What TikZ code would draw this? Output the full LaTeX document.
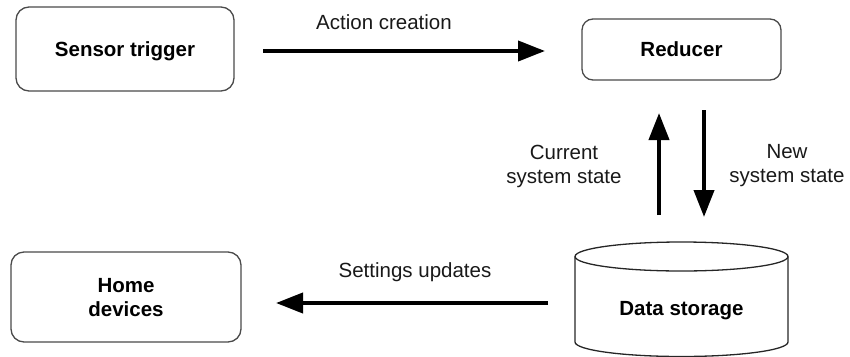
\documentclass[tikz,border=0pt]{standalone}
\usepackage{fontspec}
\setmainfont{Liberation Sans}
\usetikzlibrary{arrows.meta}
\definecolor{boxline}{HTML}{4A4A4A}
\tikzset{
  rbox/.style={draw=boxline, line width=1.3pt, rounded corners=13pt, align=center,
    font=\fontsize{20.5}{24}\selectfont\bfseries, inner sep=0pt, text depth=0pt},
  lbl/.style={align=center, font=\fontsize{20.5}{24}\selectfont, text=black!90},
  arr/.style={line width=4pt, -{Triangle[length=27pt,width=20pt]}},
  cyl/.style={draw=black!85, line width=1.3pt}
}
\begin{document}
\begin{tikzpicture}[x=1pt,y=-1pt]
\useasboundingbox (0,0) rectangle (850,356);
% boxes
\node[rbox, minimum width=218pt, minimum height=84pt] (sensor) at (125,49) {Sensor trigger};
\node[rbox, rounded corners=11pt, minimum width=199pt, minimum height=61pt] (reducer) at (681.5,49.5) {Reducer};
\node[rbox, minimum width=230pt, minimum height=90pt] (home) at (126,297) {Home\\devices};
% cylinder
\node[font=\fontsize{20.5}{24}\selectfont\bfseries, minimum width=213pt, minimum height=85pt, inner sep=0pt, text depth=0pt] (ds) at (681.5,308) {Data storage};
\draw[cyl] (575,256.5) -- (575,342) arc[start angle=180, end angle=0, x radius=106.5, y radius=14.5] -- (788,256.5);
\draw[cyl] (681.5,256.5) ellipse[x radius=106.5, y radius=14.5];
% arrow end points
\coordinate (a1s) at (263,51);
\coordinate (a1e) at (545,51);
\coordinate (upS) at (659,215);
\coordinate (upE) at (659,113);
\coordinate (dnS) at (704,110);
\coordinate (dnE) at (704,217);
\coordinate (suS) at (548,303);
\coordinate (suE) at (276,303);
% arrows
\draw[arr] (a1s) -- (a1e);
\draw[arr] (upS) -- (upE);
\draw[arr] (dnS) -- (dnE);
\draw[arr] (suS) -- (suE);
% labels
\node[lbl] (lac) at (384,22) {Action creation};
\node[lbl] (lsu) at (415,272) {Settings updates};
\node[lbl] (lcur) at (564,166) {Current\\system state};
\node[lbl] (lnew) at (787,166) {New\\system state};
\end{tikzpicture}
\end{document}
